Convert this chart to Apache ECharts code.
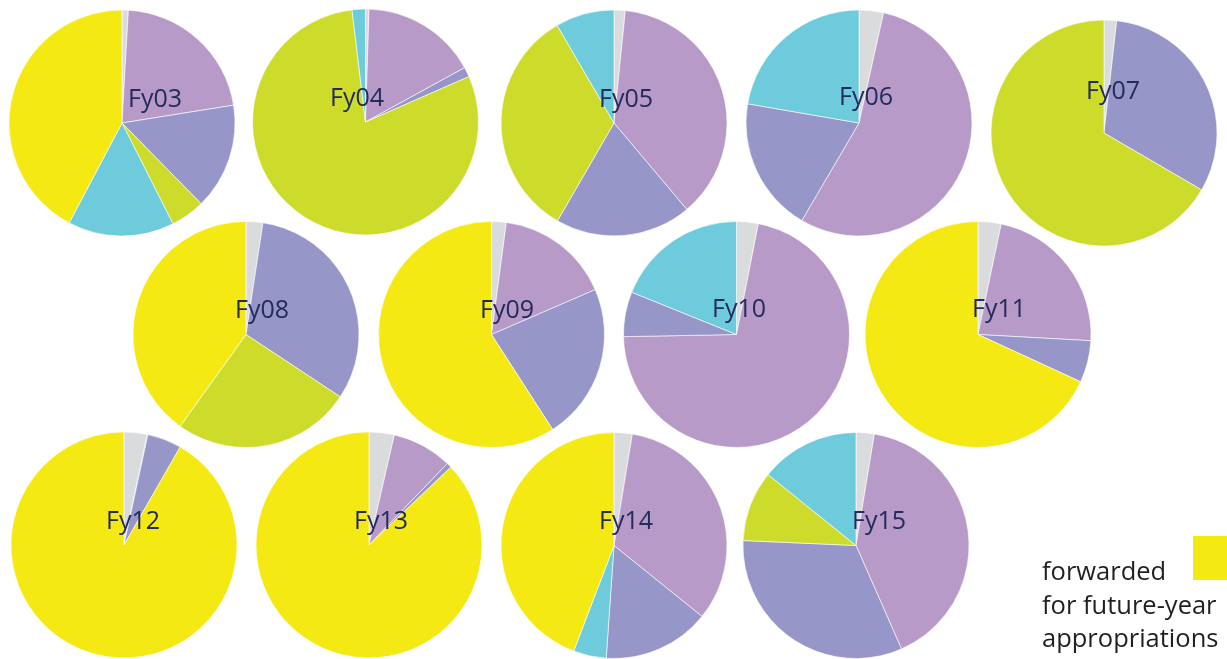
<!DOCTYPE html>
<html>
<head>
<meta charset="utf-8">
<script src="https://cdn.jsdelivr.net/npm/echarts@6/dist/echarts.min.js"></script>
<style>
html, body { margin: 0; padding: 0; background: #fff; }
#main { width: 1227px; height: 659px; }
</style>
</head>
<body>
<div id="main"></div>
<script>
var myChart = echarts.init(document.getElementById('main'));

// fiscal years, one pie each
var years = ['Fy03', 'Fy04', 'Fy05', 'Fy06', 'Fy07', 'Fy08', 'Fy09', 'Fy10', 'Fy11', 'Fy12', 'Fy13', 'Fy14', 'Fy15'];

// share of each category per year (%), clockwise from 12 o'clock
var categories = ['Other', 'Category B', 'Category C', 'Category D', 'Category E', 'forwarded for future-year appropriations'];
var other     = [0.9, 0.5, 1.6, 3.5, 1.8, 2.4, 2.1, 3.1, 3.3, 3.3, 3.6, 2.6, 2.6];
var catB      = [21.6, 16.5, 37.3, 55.0, 0, 0, 16.4, 71.6, 22.6, 0.1, 8.6, 33.2, 40.8];
var catC      = [15.2, 1.4, 19.5, 19.3, 31.6, 31.9, 22.4, 6.4, 6.0, 4.9, 0.7, 15.3, 32.3];
var catD      = [4.9, 79.6, 33.3, 0, 66.6, 25.6, 0, 0, 0, 0, 0, 0, 10.1];
var catE      = [15.2, 1.9, 8.4, 22.3, 0, 0, 0, 18.9, 0, 0, 0, 4.7, 14.2];
var forwarded = [42.3, 0, 0, 0, 0, 40.1, 59.1, 0, 68.2, 91.8, 87.1, 44.2, 0];

var colors = ['#dadbdd', '#b89ac8', '#9696c8', '#cddc2a', '#6ecbdc', '#f5e914'];

// layout: pie centre and label centre for each year
var centers = [
    [122, 123], [365.5, 122], [614, 123], [859, 123], [1104, 133],
    [246, 334.5], [491.5, 334.5], [736.5, 334.5], [978, 334.5],
    [124, 545], [369, 545], [614, 545.5], [856, 545.5]
];
var labelPos = [
    [155, 100], [357, 99], [626, 100], [866, 98], [1113, 92],
    [262, 311], [507, 311], [739, 310], [999, 310],
    [133, 522], [381, 522], [626, 522], [879, 522]
];

var allValues = [other, catB, catC, catD, catE, forwarded];

var series = years.map(function (y, i) {
    var data = [];
    allValues.forEach(function (arr, k) {
        if (arr[i] > 0) {
            data.push({ name: categories[k], value: arr[i], itemStyle: { color: colors[k] } });
        }
    });
    return {
        name: y,
        type: 'pie',
        center: centers[i],
        radius: 113,
        startAngle: 90,
        clockwise: true,
        label: { show: false },
        labelLine: { show: false },
        emphasis: { disabled: true },
        itemStyle: { borderColor: '#ffffff', borderWidth: 0.6 },
        data: data
    };
});

var graphic = years.map(function (y, i) {
    return {
        type: 'text',
        x: labelPos[i][0],
        y: labelPos[i][1],
        z: 100,
        style: {
            text: y,
            fill: '#232a5c',
            font: '25px "Open Sans"',
            textAlign: 'center',
            textVerticalAlign: 'middle'
        }
    };
});

// legend entry (only the forwarded category is visible)
graphic.push({
    type: 'rect',
    shape: { x: 1193, y: 536, width: 34, height: 44 },
    style: { fill: colors[5] }
});
graphic.push({
    type: 'text',
    x: 1042,
    y: 556,
    style: {
        text: 'forwarded\nfor future-year\nappropriations',
        fill: '#231f20',
        font: '25.5px "Open Sans"',
        lineHeight: 33.5,
        textAlign: 'left',
        textVerticalAlign: 'top'
    }
});

option = {
    animation: false,
    backgroundColor: '#ffffff',
    tooltip: { show: false },
    series: series,
    graphic: graphic
};

myChart.setOption(option);
</script>
</body>
</html>
